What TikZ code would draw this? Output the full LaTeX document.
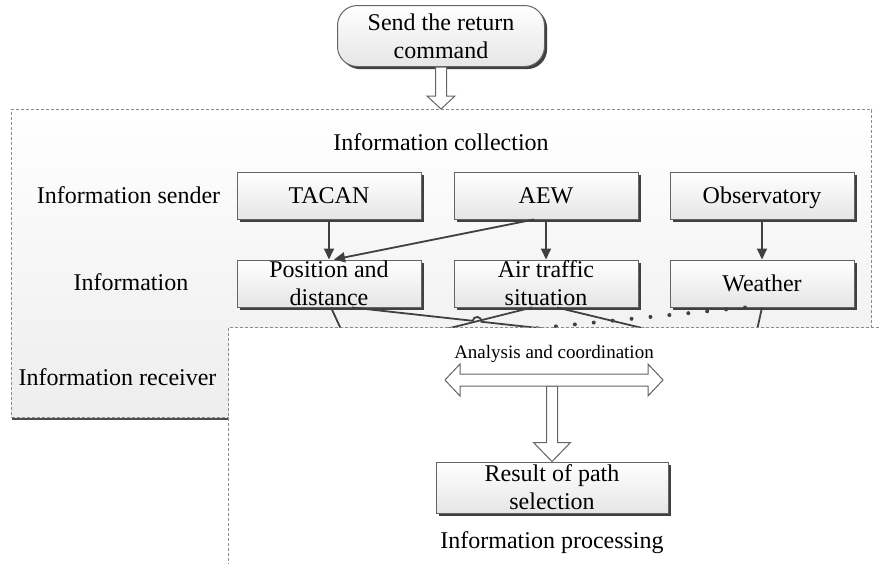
\documentclass[tikz,border=0pt]{standalone}
\usepackage{fontspec}
\setmainfont{Liberation Serif}
\usetikzlibrary{positioning}
\usetikzlibrary{arrows.meta}
\usetikzlibrary{calc}
\usetikzlibrary{shadows}
\definecolor{linecolor}{RGB}{64,64,64}
\definecolor{edgecolor}{RGB}{100,100,100}
\definecolor{dashcolor}{RGB}{140,140,140}

% hollow block arrow pointing down: top point, tip, head half width, head length
\newcommand{\hollowdown}[4]{%
  \draw[hollow] let \p1=(#1), \p2=(#2) in
    (\x2-2.75pt,\y1) -- (\x2-2.75pt,\y2+#4) -- (\x2-#3,\y2+#4) -- (\x2,\y2)
    -- (\x2+#3,\y2+#4) -- (\x2+2.75pt,\y2+#4) -- (\x2+2.75pt,\y1) -- cycle;}

\begin{document}
\begin{tikzpicture}[
    x=0.5pt, y=-0.5pt,
    every node/.style={font=\fontsize{12}{14}\selectfont},
    block/.style={rectangle, draw=edgecolor, line width=0.5pt, minimum width=92pt, minimum height=23.5pt, inner sep=0pt, align=center, top color=white, bottom color=black!10, drop shadow={shadow xshift=1.3pt, shadow yshift=-1.3pt, fill=black!75, opacity=1}},
    oneline/.style={block, text height=7.9pt, text depth=0pt},
    termblock/.style={block, rounded corners=10pt, minimum width=103.5pt, minimum height=30.5pt},
    regionbox/.style={rectangle, draw=dashcolor, line width=0.5pt, dash pattern=on 1.5pt off 1pt, inner sep=0pt, anchor=north west},
    collectbox/.style={regionbox, top color=white, bottom color=black!7, drop shadow={shadow xshift=0pt, shadow yshift=-1.2pt, fill=black!70, opacity=1}},
    procbox/.style={regionbox, fill=white},
    lbl/.style={inner sep=0pt},
    link/.style={draw=linecolor, line width=0.9pt},
    arrow/.style={link, -{Triangle[length=5.5pt, width=5pt]}},
    dotlink/.style={draw=linecolor, line width=2pt, line cap=round, dash pattern=on 0pt off 9.5pt},
    hollow/.style={draw=edgecolor, line width=0.5pt, fill=white, line join=miter}
]
\useasboundingbox (0,0) rectangle (879,563);

% Return command
\node[termblock] (cmd) at (441,36) {Send the return\\command};

% Information collection
\node[collectbox, minimum width=430pt, minimum height=154pt] (collect) at (11,109) {};
\node[lbl] (collectl) at (441,142) {Information collection};
\hollowdown{cmd.south}{cmd.south |- collect.north}{7pt}{6.5pt}

% Row labels
\node[lbl] (senderl) at (128.5,195.5) {Information sender};
\node[lbl] (infol) at (131,282.5) {Information};
\node[lbl] (receiverl) at (117.5,377) {Information receiver};

% Senders
\node[oneline] (tacan) at (329,195.5) {TACAN};
\node[oneline, right=16pt of tacan] (aew) {AEW};
\node[oneline, right=15.5pt of aew] (obs) {Observatory};

% Information
\node[block, below=20pt of tacan] (posdist) {Position and\\distance};
\node[block, below=20pt of aew] (traffic) {Air traffic\\situation};
\node[oneline, below=20pt of obs] (weather) {Weather};

% Sender to information
\draw[arrow] (tacan) -- (posdist);
\draw[arrow] (aew) -- (traffic);
\draw[arrow] (obs) -- (weather);
\draw[arrow] ($(aew.south)+(-12,0)$) -- ($(posdist.north)+(5,0)$);

% Information to receivers
\coordinate (l1e) at (346,340);
\coordinate (l2s) at ($(posdist.south)+(23,0)$);
\coordinate (l2e) at (602,335);
\coordinate (l3s) at ($(traffic.south)+(-14,0)$);
\coordinate (l3e) at (422,335);
\coordinate (l4e) at (667,334);
\coordinate (l5e) at (499,332);
\coordinate (l6e) at (757,330);
\coordinate (hop) at (intersection of l2s--l2e and l3s--l3e);
\draw[link] ($(posdist.south)+(2,0)$) -- (l1e);
\draw[link] (l2s) -- ($(hop)!2.2pt!(l2s)$) arc[start angle=173.6, end angle=-6.4, radius=2.2pt] -- (l2e);
\draw[link] (l3s) -- (l3e);
\draw[link] ($(traffic.south)+(11,0)$) -- (l4e);
\draw[dotlink] ($(weather.south)+(-17,0)$) -- (l5e);
\draw[link] (weather.south) -- (l6e);

% Information processing
\node[procbox, minimum width=350pt, minimum height=150pt] (proc) at (228,327) {};
\node[lbl, font=\fontsize{9.5}{11}\selectfont] (analysis) at (554,354) {Analysis and coordination};
\coordinate (anaL) at (445,380);
\coordinate (anaR) at (663,380);
\coordinate (anaM) at ($(anaL)!0.5!(anaR)+(0,6)$);
\node[block, minimum width=116pt, minimum height=25.5pt] (result) at (552,487.5) {Result of path\\selection};
\node[lbl] (procl) at (552,543) {Information processing};

\hollowdown{anaM}{result.north}{9.25pt}{9.5pt}
\draw[hollow] (anaL) -- ($(anaL)+(15,-16)$) -- ($(anaL)+(15,-6)$) -- ($(anaR)+(-15,-6)$)
    -- ($(anaR)+(-15,-16)$) -- (anaR) -- ($(anaR)+(-15,16)$) -- ($(anaR)+(-15,6)$)
    -- ($(anaL)+(15,6)$) -- ($(anaL)+(15,16)$) -- cycle;

\end{tikzpicture}
\end{document}
